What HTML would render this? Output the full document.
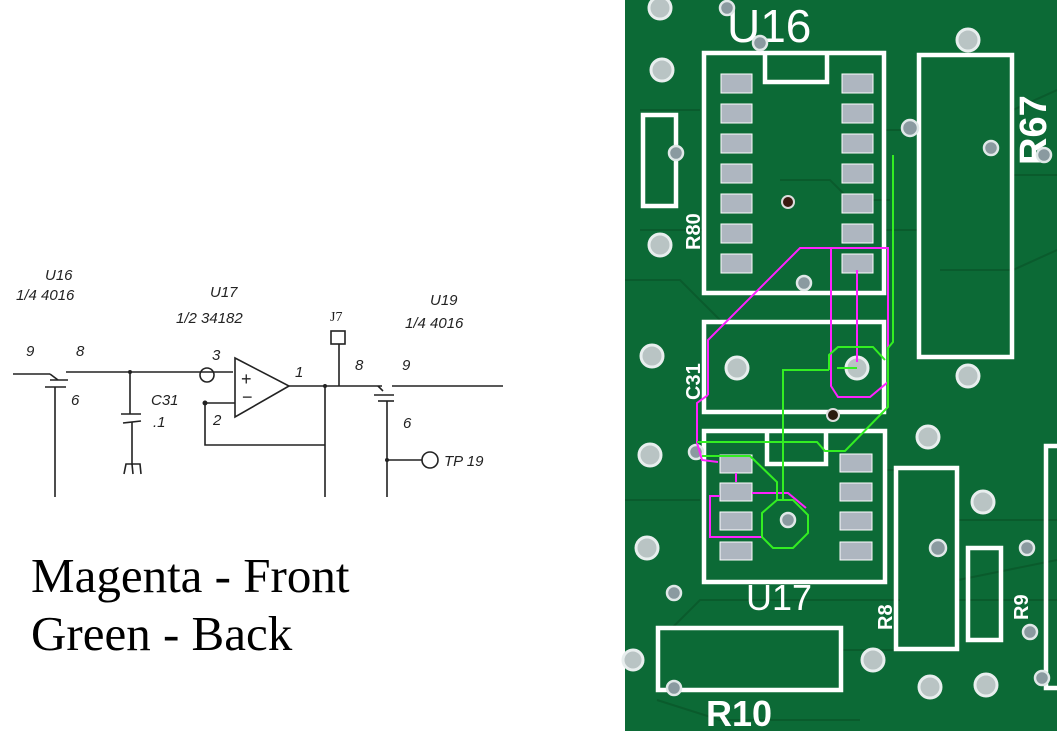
<!DOCTYPE html>
<html><head><meta charset="utf-8"><style>
html,body{margin:0;padding:0;background:#fff;}
svg{display:block;}
</style></head><body>
<svg width="1057" height="731" viewBox="0 0 1057 731" xmlns="http://www.w3.org/2000/svg">
<rect width="1057" height="731" fill="#fff"/>
<!-- Schematic -->
<g stroke="#222" stroke-width="1.6" fill="none">
<line x1="13" y1="374" x2="50" y2="374"/>
<line x1="50" y1="374" x2="58" y2="380"/>
<line x1="50" y1="380" x2="68" y2="380"/>
<line x1="45" y1="387" x2="66" y2="387"/>
<line x1="55" y1="387" x2="55" y2="497"/>
<line x1="66" y1="372" x2="233" y2="372"/>
<line x1="130" y1="372" x2="130" y2="414"/>
<line x1="121" y1="414" x2="141" y2="414"/>
<line x1="123" y1="423" x2="141" y2="421"/>
<line x1="132" y1="422" x2="132" y2="465"/>
<path d="M124 474 L126 464 L140 464 L141 474 M132 464 L133 474"/>
<circle cx="207" cy="375" r="7"/>
<path d="M235 358 L235 417 L289 386 Z"/>
<line x1="205" y1="403" x2="235" y2="403"/>
<path d="M205 403 L205 445 L325 445"/>
<line x1="289" y1="386" x2="382" y2="386"/>
<line x1="325" y1="386" x2="325" y2="497"/>
<rect x="331" y="331" width="14" height="13"/>
<line x1="339" y1="344" x2="339" y2="386"/>
<line x1="378" y1="386" x2="383" y2="391"/>
<line x1="374" y1="395" x2="394" y2="395"/>
<line x1="378" y1="401" x2="394" y2="401"/>
<line x1="392" y1="386" x2="503" y2="386"/>
<line x1="387" y1="401" x2="387" y2="497"/>
<line x1="387" y1="460" x2="422" y2="460"/>
<circle cx="430" cy="460" r="8"/>
</g>
<circle cx="130" cy="372" r="2" fill="#222"/>
<circle cx="205" cy="403" r="2.5" fill="#222"/>
<circle cx="325" cy="386" r="2" fill="#222"/>
<circle cx="387" cy="460" r="2" fill="#222"/>
<g font-family="Liberation Sans, sans-serif" font-style="italic" font-size="15" fill="#222">
<text x="45" y="280">U16</text>
<text x="16" y="300">1/4 4016</text>
<text x="210" y="297">U17</text>
<text x="176" y="323">1/2 34182</text>
<text x="430" y="305">U19</text>
<text x="405" y="328">1/4 4016</text>
<text x="26" y="356">9</text>
<text x="76" y="356">8</text>
<text x="71" y="405">6</text>
<text x="151" y="405">C31</text>
<text x="153" y="427">.1</text>
<text x="212" y="360">3</text>
<text x="213" y="425">2</text>
<text x="295" y="377">1</text>
<text x="355" y="370">8</text>
<text x="402" y="370">9</text>
<text x="403" y="428">6</text>
<text x="444" y="466">TP 19</text>
<text x="241" y="385" font-style="normal" font-size="18">+</text>
<text x="242" y="403" font-style="normal" font-size="18">−</text>
</g>
<text x="330" y="321" font-family="Liberation Serif, serif" font-size="14" fill="#222">J7</text>
<g font-family="Liberation Serif, serif" font-size="49" fill="#000">
<text x="31" y="592">Magenta - Front</text>
<text x="31" y="650">Green - Back</text>
</g>

<!-- PCB -->
<rect x="625" y="0" width="432" height="731" fill="#0c6a36"/>
<g stroke="#0a5a2c" stroke-width="2" fill="none" opacity="0.9">
<path d="M640 110 L700 110 M640 230 L703 230 M625 280 L680 280 L720 320"/>
<path d="M885 130 L918 130 M1013 110 L1057 90 M1013 175 L1057 175"/>
<path d="M885 230 L918 230 M940 270 L1013 270 L1057 250"/>
<path d="M625 500 L700 500 M887 470 L895 470 M958 520 L1057 520"/>
<path d="M958 580 L1057 560 M958 600 L1057 600 M657 700 L720 720 L860 720"/>
<path d="M670 630 L700 600 L900 600 M842 650 L895 650"/>
<path d="M780 180 L830 180 L850 200 L890 200"/>
</g>
<g fill="none" stroke="#fff" stroke-width="4.5">
<rect x="704" y="53" width="180" height="240"/>
<path d="M765 55 L765 82 L827 82 L827 55"/>
<rect x="919" y="55" width="93" height="302"/>
<rect x="643" y="115" width="33" height="91"/>
<rect x="704" y="322" width="180" height="90"/>
<rect x="704" y="431" width="181" height="151"/>
<path d="M767 433 L767 464 L826 464 L826 433"/>
<rect x="896" y="468" width="61" height="181"/>
<rect x="968" y="548" width="33" height="92"/>
<rect x="658" y="628" width="183" height="62"/>
<path d="M1057 446 L1046 446 L1046 688 L1057 688"/>
</g>
<g font-family="Liberation Sans, sans-serif" fill="#fff" font-weight="normal">
<text x="727" y="42" font-size="46">U16</text>
<text x="746" y="610" font-size="36">U17</text>
<text x="706" y="726" font-size="36" font-weight="bold">R10</text>
<text transform="translate(1046,165) rotate(-90)" font-size="38" font-weight="bold">R67</text>
<text transform="translate(700,250) rotate(-90)" font-size="20" font-weight="bold">R80</text>
<text transform="translate(700,400) rotate(-90)" font-size="20" font-weight="bold">C31</text>
<text transform="translate(892,630) rotate(-90)" font-size="20" font-weight="bold">R8</text>
<text transform="translate(1028,620) rotate(-90)" font-size="20" font-weight="bold">R9</text>
</g>
<!-- pads -->
<g fill="#aeb6c0" stroke="#fff" stroke-width="1">
<rect x="721" y="74" width="31" height="19"/><rect x="721" y="104" width="31" height="19"/>
<rect x="721" y="134" width="31" height="19"/><rect x="721" y="164" width="31" height="19"/>
<rect x="721" y="194" width="31" height="19"/><rect x="721" y="224" width="31" height="19"/>
<rect x="721" y="254" width="31" height="19"/>
<rect x="842" y="74" width="31" height="19"/><rect x="842" y="104" width="31" height="19"/>
<rect x="842" y="134" width="31" height="19"/><rect x="842" y="164" width="31" height="19"/>
<rect x="842" y="194" width="31" height="19"/><rect x="842" y="224" width="31" height="19"/>
<rect x="842" y="254" width="31" height="19"/>
<rect x="720" y="455" width="32" height="18"/><rect x="720" y="483" width="32" height="18"/>
<rect x="720" y="512" width="32" height="18"/><rect x="720" y="542" width="32" height="18"/>
<rect x="840" y="454" width="32" height="18"/><rect x="840" y="483" width="32" height="18"/>
<rect x="840" y="512" width="32" height="18"/><rect x="840" y="542" width="32" height="18"/>
</g>
<!-- holes -->
<g fill="#b9c4c4" stroke="#e8eeee" stroke-width="3">
<circle cx="660" cy="8" r="11"/><circle cx="662" cy="70" r="11"/><circle cx="660" cy="245" r="11"/>
<circle cx="652" cy="356" r="11"/><circle cx="650" cy="455" r="11"/><circle cx="647" cy="548" r="11"/>
<circle cx="737" cy="368" r="11"/><circle cx="857" cy="368" r="11"/><circle cx="968" cy="40" r="11"/>
<circle cx="968" cy="376" r="11"/><circle cx="928" cy="437" r="11"/><circle cx="983" cy="502" r="11"/>
<circle cx="873" cy="660" r="11"/><circle cx="930" cy="687" r="11"/><circle cx="986" cy="685" r="11"/>
<circle cx="633" cy="660" r="10"/>
</g>
<g fill="#8a9aa0" stroke="#e0e8e8" stroke-width="2.5">
<circle cx="727" cy="8" r="7"/><circle cx="760" cy="43" r="7"/><circle cx="910" cy="128" r="8"/>
<circle cx="991" cy="148" r="7"/><circle cx="1044" cy="155" r="7"/><circle cx="676" cy="153" r="7"/>
<circle cx="804" cy="283" r="7"/><circle cx="696" cy="452" r="7"/><circle cx="788" cy="520" r="7"/>
<circle cx="938" cy="548" r="8"/><circle cx="1027" cy="548" r="7"/><circle cx="1030" cy="632" r="7"/>
<circle cx="674" cy="593" r="7"/><circle cx="674" cy="688" r="7"/><circle cx="1042" cy="678" r="7"/>
</g>
<circle cx="788" cy="202" r="6" fill="#3a1a10" stroke="#ddd" stroke-width="2"/>
<circle cx="833" cy="415" r="6" fill="#2a1a10" stroke="#ddd" stroke-width="2"/>
<!-- magenta front traces -->
<g fill="none" stroke="#ff22ff" stroke-width="2">
<path d="M708 395 L708 340 L800 248 L888 248 L888 382 L870 397 L838 397 L831 386 L831 248"/>
<path d="M857 270 L857 362"/>
<path d="M708 395 L697 403 L697 443 L702 460 L718 462"/>
<path d="M736 473 L736 482"/>
<path d="M720 496 L710 496 L710 537 L762 537"/>
<path d="M752 493 L788 493 L806 508"/>
</g>
<!-- green back traces -->
<g fill="none" stroke="#33ee22" stroke-width="2">
<path d="M893 155 L893 342 L888 348 L888 407 L845 451 L825 451 L817 442 L697 442"/>
<path d="M829 370 L829 355 L838 347 L873 347 L885 360"/>
<path d="M783 500 L783 370 L829 370"/>
<path d="M762 513 L777 500 L793 500 L808 515 L808 533 L793 548 L773 548 L762 537 Z"/>
<path d="M702 456 L750 456 L777 482 L777 500"/>
<path d="M837 368 L857 368"/>
</g>
</svg>
</body></html>
